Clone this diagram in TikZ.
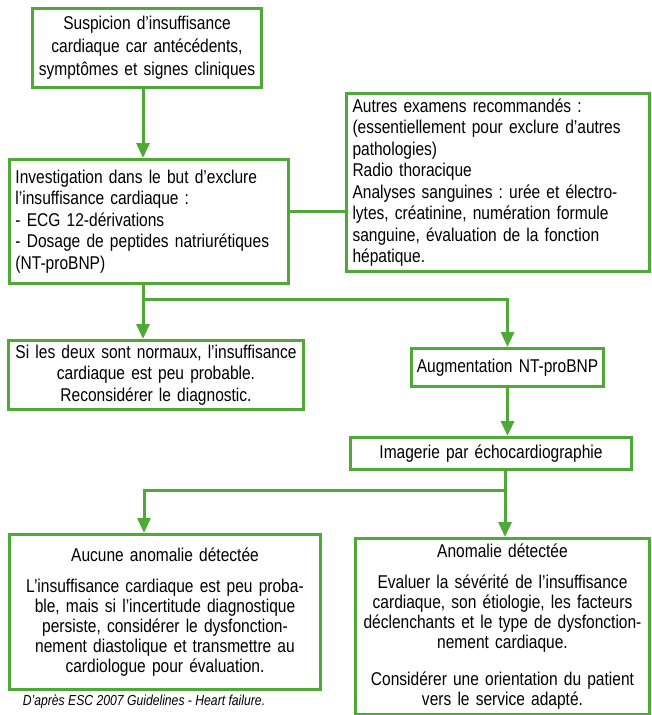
\documentclass[tikz,border=0pt]{standalone}
\usepackage{fontspec}
\setmainfont{Liberation Sans}[FakeStretch=0.84]
\usetikzlibrary{arrows.meta,positioning}
\definecolor{cgreen}{HTML}{4DAA36}
\frenchspacing
\tikzset{
  box/.style={rectangle,draw=cgreen,line width=3pt,inner xsep=3pt,inner ysep=3pt,anchor=north west,font=\fontsize{18.5}{21.5}\selectfont},
  flow/.style={draw=cgreen,line width=3pt,-{Triangle[width=13pt,length=15pt]}},
  link/.style={draw=cgreen,line width=3pt},
}

\begin{document}
\begin{tikzpicture}[x=1pt,y=-1pt]
  \useasboundingbox (0,0) rectangle (651,715);
  \node[box,text width=223,minimum height=79,align=center,font=\fontsize{18.5}{23}\selectfont] (susp) at (31,7)
    {Suspicion d’insuffisance\\cardiaque car antécédents,\\symptômes et signes cliniques};
  \node[box,inner xsep=6pt,text width=267,minimum height=124,align=left] (invest) at (8,158)
    {Investigation dans le but d’exclure\\l’insuffisance cardiaque :\\- ECG 12-dérivations\\- Dosage de peptides natriurétiques\\(NT-proBNP)};
  \node[box,inner xsep=6pt,text width=291,minimum height=178,align=left] (autres) at (345,92)
    {Autres examens recommandés :\\(essentiellement pour exclure d’autres\\pathologies)\\Radio thoracique\\Analyses sanguines : urée et électro-\\lytes, créatinine, numération formule\\sanguine, évaluation de la fonction\\hépatique.};
  \node[box,text width=289,minimum height=69,align=center] (normal) at (7,339)
    {Si les deux sont normaux, l’insuffisance\\cardiaque est peu probable.\\Reconsidérer le diagnostic.};
  \node[box,text width=186,minimum height=38,align=center] (bnp) at (410,347) {Augmentation NT-proBNP};
  \node[box,text width=275,minimum height=32,align=center] (echo) at (349,436) {Imagerie par échocardiographie};
  \node[box,text width=305,minimum height=155,align=center,font=\fontsize{18.5}{20}\selectfont] (aucune) at (8,533)
    {Aucune anomalie détectée\\[11pt]L’insuffisance cardiaque est peu proba-\\ble, mais si l’incertitude diagnostique\\persiste, considérer le dysfonction-\\nement diastolique et transmettre au\\cardiologue pour évaluation.};
  \node[box,text width=288,minimum height=176,align=center,font=\fontsize{18.5}{20}\selectfont] (anomalie) at (354,537)
    {Anomalie détectée\\[11pt]Evaluer la sévérité de l’insuffisance\\cardiaque, son étiologie, les facteurs\\déclenchants et le type de dysfonction-\\nement cardiaque.\\[17pt]Considérer une orientation du patient\\vers le service adapté.};
  \node[font=\fontsize{14.5}{17}\selectfont\itshape] (source) at (144,702) {D’après ESC 2007 Guidelines - Heart failure.};
  % connecteurs
  \coordinate (split1) at (143,299);
  \coordinate (split2) at (505,490);
  \coordinate (split3) at (144,490);
  \draw[flow] (susp.south -| split1) -- (split1 |- invest.north);
  \draw[link] ([yshift=10pt]invest.east) -- ([yshift=10pt]invest.east -| autres.west);
  \draw[link] (invest.south -| split1) -- (split1);
  \draw[flow] (split1) -- (split1 |- normal.north);
  \draw[flow] (split1) -| (bnp.north);
  \draw[flow] (bnp.south) -- (bnp.south |- echo.north);
  \draw[link] (echo.south -| split2) -- (split2);
  \draw[flow] (split2) -- (split2 |- anomalie.north);
  \draw[flow] (split2) -- (split3) -- (split3 |- aucune.north);
\end{tikzpicture}
\end{document}
